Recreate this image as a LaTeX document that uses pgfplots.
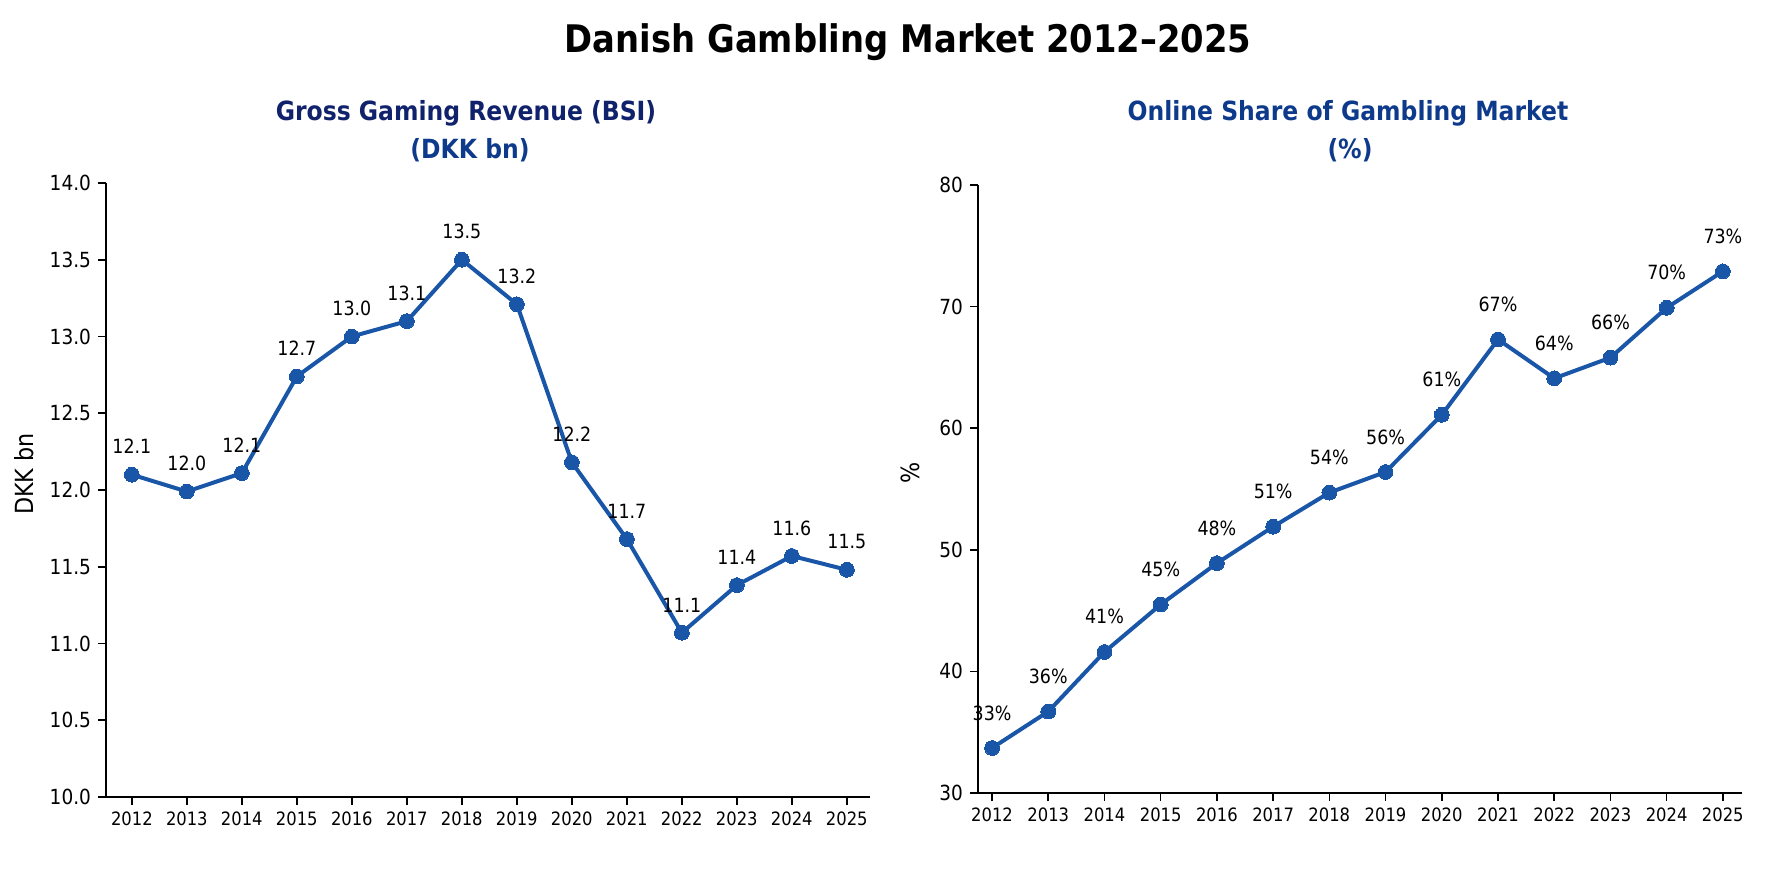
\documentclass[border=0pt]{standalone}
\usepackage{pgfplots}
\pgfplotsset{compat=1.18}
\usepackage{pgfplotstable}
\usepackage{fontspec}
\setmainfont{DejaVu Sans}[FakeStretch=0.89]
\definecolor{lineblue}{HTML}{1A56A8}
\definecolor{navyA}{HTML}{10226C}
\definecolor{navyB}{HTML}{0D3A8A}

\pgfplotstableread{
year val lab
2012 12.10 12.1
2013 11.99 12.0
2014 12.11 12.1
2015 12.74 12.7
2016 13.00 13.0
2017 13.10 13.1
2018 13.50 13.5
2019 13.21 13.2
2020 12.18 12.2
2021 11.68 11.7
2022 11.07 11.1
2023 11.38 11.4
2024 11.57 11.6
2025 11.48 11.5
}\gdata

\pgfplotstableread{
year val lab
2012 33.7 33
2013 36.7 36
2014 41.6 41
2015 45.5 45
2016 48.9 48
2017 51.9 51
2018 54.7 54
2019 56.4 56
2020 61.1 61
2021 67.3 67
2022 64.1 64
2023 65.8 66
2024 69.9 70
2025 72.9 73
}\odata

\pgfplotsset{
  common/.style={
    scale only axis, width=382pt,
    axis x line*=bottom, axis y line*=left,
    tick align=outside, major tick length=4pt,
    tick style={black, line width=0.8pt},
    axis line style={black, line width=0.9pt},
    xtick={2012,...,2025},
    /pgf/number format/assume math mode=true,
    /pgf/number format/1000 sep={},
    xticklabel style={font=\fontsize{9.2}{11}\selectfont},
    yticklabel style={font=\fontsize{10.4}{12}\selectfont},
    ylabel style={font=\fontsize{12.5}{14}\selectfont, anchor=center},
    clip=false,
  },
  serie/.style={lineblue, line width=2pt, mark=*, mark size=3.7pt,
    mark options={fill=lineblue, draw=lineblue, line width=0pt},
    nodes near coords, point meta=explicit symbolic},
}

\begin{document}
\begin{tikzpicture}
\path[use as bounding box] (0,0) rectangle (887pt,443.5pt);

\node[anchor=base, font=\bfseries\fontsize{19}{22}\selectfont] at (454pt,417.1pt) {Danish Gambling Market 2012–2025};
\node[anchor=base, text=navyA, font=\bfseries\fontsize{13.2}{15}\selectfont] at (233pt,383.2pt) {Gross Gaming Revenue (BSI)};
\node[anchor=base, text=navyB, font=\bfseries\fontsize{13.2}{15}\selectfont] at (235pt,364.2pt) {(DKK bn)};
\node[anchor=base, text=navyB, font=\bfseries\fontsize{13.2}{15}\selectfont] at (674pt,383.2pt) {Online Share of Gambling Market};
\node[anchor=base, text=navyB, font=\bfseries\fontsize{13.2}{15}\selectfont] at (675pt,364.2pt) {(\%)};

\begin{axis}[common,
  at={(53pt,45pt)}, anchor=south west, height=307pt,
  xmin=2011.53, xmax=2025.42,
  ymin=10, ymax=14, ytick={10,10.5,...,14},
  yticklabel={\pgfmathprintnumber[fixed,fixed zerofill,precision=1]{\tick}},
  ylabel={DKK bn},
  ylabel style={at={(axis description cs:-0.107,0.526)}},
]
\addplot[serie, every node near coord/.append style={font=\fontsize{9.8}{11}\selectfont, black, yshift=7pt}]
  table[x=year, y=val, meta=lab]{\gdata};
\end{axis}

\begin{axis}[common,
  at={(489pt,47pt)}, anchor=south west, height=304pt,
  xmin=2011.75, xmax=2025.34,
  ymin=30, ymax=80, ytick={30,40,...,80},
  ylabel={\%},
  ylabel style={at={(axis description cs:-0.089,0.526)}},
]
\addplot[serie, nodes near coords={\pgfplotspointmeta\%},
  every node near coord/.append style={font=\fontsize{9.8}{11}\selectfont, black, yshift=10.5pt}]
  table[x=year, y=val, meta=lab]{\odata};
\end{axis}
\end{tikzpicture}
\end{document}
